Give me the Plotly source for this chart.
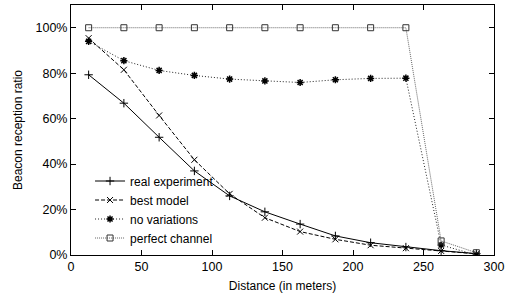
import plotly.graph_objects as go

distance = [12.5, 37.5, 62.5, 87.5, 112.5, 137.5, 162.5, 187.5, 212.5, 237.5, 262.5, 287.5]
real_experiment = [79.3, 66.8, 51.8, 37.0, 26.0, 19.0, 13.6, 8.4, 5.4, 3.5, 1.9, 0.6]
best_model = [95.4, 81.5, 61.4, 41.9, 26.9, 16.4, 10.3, 6.9, 4.3, 3.0, 1.8, 0.5]
no_variations = [94.0, 85.5, 81.2, 79.0, 77.4, 76.6, 75.9, 77.1, 77.7, 77.8, 4.4, 0.0]
perfect_channel = [100, 100, 100, 100, 100, 100, 100, 100, 100, 100, 6.2, 1.0]

x_ticks = [0, 50, 100, 150, 200, 250, 300]
y_ticks = [0, 20, 40, 60, 80, 100]
y_tick_labels = ["0%", "20%", "40%", "60%", "80%", "100%"]

FONT = "Liberation Sans, Arial, Helvetica, sans-serif"

fig = go.Figure()
fig.add_trace(go.Scatter(x=distance, y=real_experiment, name="real experiment", mode="lines+markers",
                         line=dict(color="black", width=1),
                         marker=dict(symbol="cross-thin", size=6, color="black", line=dict(color="black", width=1))))
fig.add_trace(go.Scatter(x=distance, y=best_model, name="best model", mode="lines+markers",
                         line=dict(color="black", width=1, dash="4px,2px"),
                         marker=dict(symbol="x-thin", size=6, color="black", line=dict(color="black", width=1))))
fig.add_trace(go.Scatter(x=distance, y=no_variations, name="no variations", mode="lines+markers",
                         line=dict(color="#222222", width=1, dash="1px,2px"),
                         marker=dict(symbol="asterisk", size=6, color="black", line=dict(color="black", width=1.5))))
fig.add_trace(go.Scatter(x=distance, y=perfect_channel, name="perfect channel", mode="lines+markers",
                         line=dict(color="#666666", width=1, dash="1px,1px"),
                         marker=dict(symbol="square-open", size=6, color="#333333", line=dict(color="#333333", width=1))))

fig.update_layout(
    width=510, height=299,
    margin=dict(l=71, r=16, t=5, b=44, autoexpand=False),
    paper_bgcolor="white", plot_bgcolor="white",
    font=dict(family=FONT, size=12, color="black"),
    showlegend=True,
    legend=dict(x=0.045, y=0.01, xanchor="left", yanchor="bottom", bgcolor="rgba(0,0,0,0)",
                font=dict(size=12), tracegroupgap=0, itemwidth=30),
)
fig.update_xaxes(range=[0, 300], tickvals=x_ticks, ticks="inside", ticklen=5, tickcolor="black",
                 tickfont=dict(size=12.5), automargin=False,
                 showline=True, linecolor="black", linewidth=1, mirror="ticks", showgrid=False, zeroline=False,
                 title=dict(text="Distance (in meters)", standoff=8, font=dict(size=12)))
fig.update_yaxes(range=[0, 110], tickvals=y_ticks, ticktext=y_tick_labels, ticks="inside", ticklen=5, tickcolor="black",
                 tickfont=dict(size=12.5), automargin=False,
                 showline=True, linecolor="black", linewidth=1, mirror="ticks", showgrid=False, zeroline=False,
                 title=dict(text="Beacon reception ratio", standoff=10, font=dict(size=12)))

fig.write_html("out.html", config={"displayModeBar": False},
               post_script="document.body.style.margin='0';")
